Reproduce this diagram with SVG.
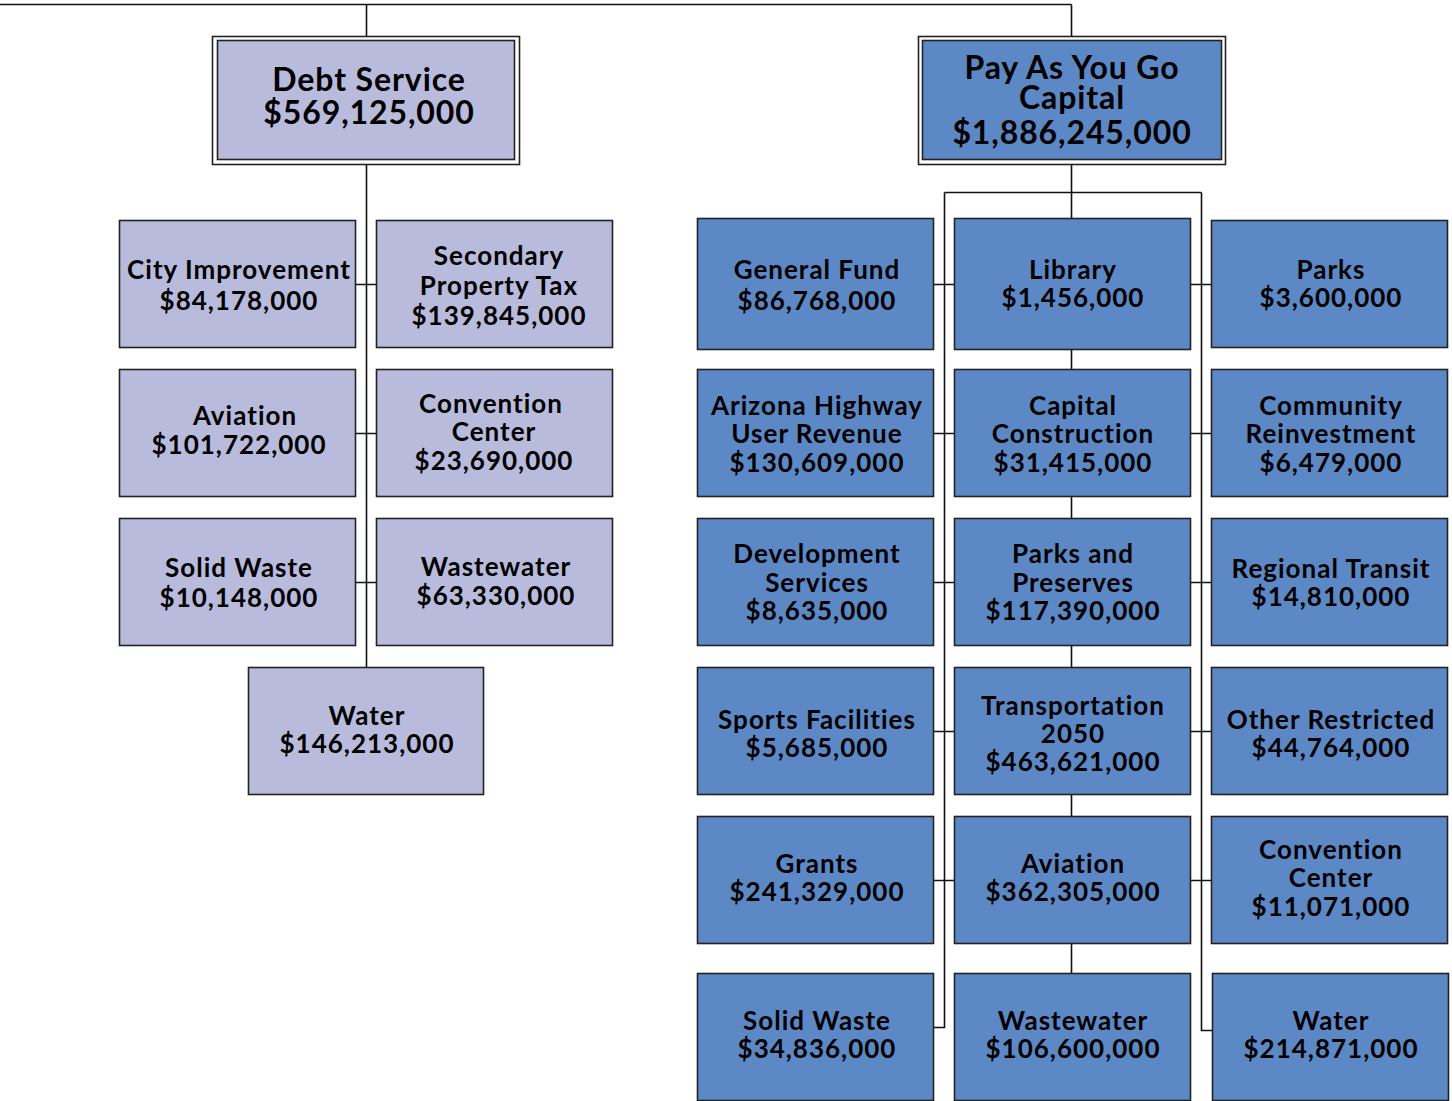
<svg xmlns="http://www.w3.org/2000/svg" width="1452" height="1101" viewBox="0 0 1452 1101">
<style>
.l{fill:#B9BBDD;stroke:#222;stroke-width:1.6}
.b{fill:#5D88C6;stroke:#222;stroke-width:1.6}
.o{fill:#fff;stroke:#222;stroke-width:1.6}
text{font-family:Lato,"Noto Sans",sans-serif;font-weight:bold;fill:#000;text-anchor:middle}
.t{font-size:26px;letter-spacing:1px}
.h{font-size:32px;letter-spacing:0.9px}
#connectors path{fill:none;stroke:#111;stroke-width:1.6}
</style>
<rect width="1452" height="1101" fill="#fff"/>
<g id="connectors">
<path d="M0 4.5H1071.5M366.5 4.5V36M1071.5 4.5V36"/>
<path d="M366.5 164V667M355 284.5H376M355 433.5H376M355 582.5H376"/>
<path d="M1071.5 164V973M944.5 192.5H1201.5M944.5 192.5V1027.5H934M1201.5 192.5V1030.5H1212"/>
<path d="M933 284.5H954M933 433.5H954M933 582.5H954M933 731.5H954M933 880.5H954"/>
<path d="M1190 284.5H1211M1190 433.5H1211M1190 582.5H1211M1190 731.5H1211M1190 880.5H1211"/>
</g>
<g id="debt-service"><rect class="o" x="212.5" y="36.5" width="307" height="128"/><rect class="l" x="217.5" y="40.5" width="297" height="119"/><text class="h" x="369" y="91">Debt Service</text><text class="h" x="369" y="124">$569,125,000</text></g>
<g id="payg"><rect class="o" x="918.5" y="36.5" width="307" height="128"/><rect class="b" x="922.5" y="40.5" width="299" height="119"/><text class="h" x="1072" y="79">Pay As You Go</text><text class="h" x="1072" y="109">Capital</text><text class="h" x="1072" y="144">$1,886,245,000</text></g>

<g id="city-improvement"><rect class="l" x="119.5" y="220.5" width="236" height="127"/><text class="t" x="239" y="279">City Improvement</text><text class="t" x="239" y="310">$84,178,000</text></g>
<g id="secondary-property-tax"><rect class="l" x="376.5" y="220.5" width="236" height="127"/><text class="t" x="499" y="265">Secondary</text><text class="t" x="499" y="295">Property Tax</text><text class="t" x="499" y="325">$139,845,000</text></g>
<g id="ds-aviation"><rect class="l" x="119.5" y="369.5" width="236" height="127"/><text class="t" x="245" y="425">Aviation</text><text class="t" x="239" y="454">$101,722,000</text></g>
<g id="ds-convention-center"><rect class="l" x="376.5" y="369.5" width="236" height="127"/><text class="t" x="491" y="413">Convention</text><text class="t" x="494" y="441">Center</text><text class="t" x="494" y="470">$23,690,000</text></g>
<g id="ds-solid-waste"><rect class="l" x="119.5" y="518.5" width="236" height="127"/><text class="t" x="239" y="577">Solid Waste</text><text class="t" x="239" y="607">$10,148,000</text></g>
<g id="ds-wastewater"><rect class="l" x="376.5" y="518.5" width="236" height="127"/><text class="t" x="496" y="576">Wastewater</text><text class="t" x="496" y="605">$63,330,000</text></g>
<g id="ds-water"><rect class="l" x="248.5" y="667.5" width="235" height="127"/><text class="t" x="367" y="725">Water</text><text class="t" x="367" y="753">$146,213,000</text></g>

<g id="general-fund"><rect class="b" x="697.5" y="218.5" width="236" height="131"/><text class="t" x="817" y="279">General Fund</text><text class="t" x="817" y="310">$86,768,000</text></g>
<g id="library"><rect class="b" x="954.5" y="218.5" width="236" height="131"/><text class="t" x="1073" y="279">Library</text><text class="t" x="1073" y="307">$1,456,000</text></g>
<g id="parks"><rect class="b" x="1211.5" y="220.5" width="236" height="127"/><text class="t" x="1331" y="279">Parks</text><text class="t" x="1331" y="307">$3,600,000</text></g>

<g id="arizona-highway"><rect class="b" x="697.5" y="369.5" width="236" height="127"/><text class="t" x="817" y="415">Arizona Highway</text><text class="t" x="817" y="443">User Revenue</text><text class="t" x="817" y="472">$130,609,000</text></g>
<g id="capital-construction"><rect class="b" x="954.5" y="369.5" width="236" height="127"/><text class="t" x="1073" y="415">Capital</text><text class="t" x="1073" y="443">Construction</text><text class="t" x="1073" y="472">$31,415,000</text></g>
<g id="community-reinvestment"><rect class="b" x="1211.5" y="369.5" width="236" height="127"/><text class="t" x="1331" y="415">Community</text><text class="t" x="1331" y="443">Reinvestment</text><text class="t" x="1331" y="472">$6,479,000</text></g>

<g id="development-services"><rect class="b" x="697.5" y="518.5" width="236" height="127"/><text class="t" x="817" y="563">Development</text><text class="t" x="817" y="592">Services</text><text class="t" x="817" y="620">$8,635,000</text></g>
<g id="parks-preserves"><rect class="b" x="954.5" y="518.5" width="236" height="127"/><text class="t" x="1073" y="563">Parks and</text><text class="t" x="1073" y="592">Preserves</text><text class="t" x="1073" y="620">$117,390,000</text></g>
<g id="regional-transit"><rect class="b" x="1211.5" y="518.5" width="236" height="127"/><text class="t" x="1331" y="578">Regional Transit</text><text class="t" x="1331" y="606">$14,810,000</text></g>

<g id="sports-facilities"><rect class="b" x="697.5" y="667.5" width="236" height="127"/><text class="t" x="817" y="729">Sports Facilities</text><text class="t" x="817" y="757">$5,685,000</text></g>
<g id="transportation-2050"><rect class="b" x="954.5" y="667.5" width="236" height="127"/><text class="t" x="1073" y="715">Transportation</text><text class="t" x="1073" y="743">2050</text><text class="t" x="1073" y="771">$463,621,000</text></g>
<g id="other-restricted"><rect class="b" x="1211.5" y="667.5" width="236" height="127"/><text class="t" x="1331" y="729">Other Restricted</text><text class="t" x="1331" y="757">$44,764,000</text></g>

<g id="grants"><rect class="b" x="697.5" y="816.5" width="236" height="127"/><text class="t" x="817" y="873">Grants</text><text class="t" x="817" y="901">$241,329,000</text></g>
<g id="pg-aviation"><rect class="b" x="954.5" y="816.5" width="236" height="127"/><text class="t" x="1073" y="873">Aviation</text><text class="t" x="1073" y="901">$362,305,000</text></g>
<g id="pg-convention-center"><rect class="b" x="1211.5" y="816.5" width="236" height="127"/><text class="t" x="1331" y="859">Convention</text><text class="t" x="1331" y="887">Center</text><text class="t" x="1331" y="916">$11,071,000</text></g>

<g id="pg-solid-waste"><rect class="b" x="697.5" y="973.5" width="236" height="127"/><text class="t" x="817" y="1030">Solid Waste</text><text class="t" x="817" y="1058">$34,836,000</text></g>
<g id="pg-wastewater"><rect class="b" x="954.5" y="973.5" width="236" height="127"/><text class="t" x="1073" y="1030">Wastewater</text><text class="t" x="1073" y="1058">$106,600,000</text></g>
<g id="pg-water"><rect class="b" x="1212.5" y="973.5" width="236" height="127"/><text class="t" x="1331" y="1030">Water</text><text class="t" x="1331" y="1058">$214,871,000</text></g>
</svg>
